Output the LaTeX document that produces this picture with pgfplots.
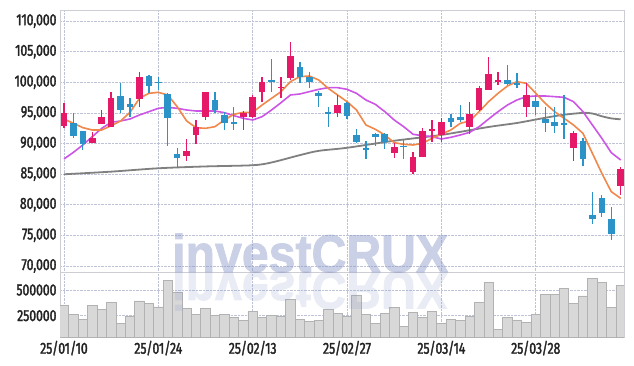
\documentclass[border=0pt]{standalone}
\usepackage{pgfplots}
\pgfplotsset{compat=1.18}
\usepackage{pgfplotstable}
\usepackage{fontspec}
\setmainfont{Fira Sans}[FakeStretch=0.76, FakeBold=2]
\newfontfamily\wmfont{Liberation Sans}[FakeBold=1.6]
\definecolor{upc}{RGB}{230,25,105}
\definecolor{dnc}{RGB}{43,147,200}
\definecolor{maA}{RGB}{240,135,75}
\definecolor{maB}{RGB}{204,85,230}
\definecolor{maC}{RGB}{128,128,128}
\definecolor{gridc}{RGB}{190,195,215}
\definecolor{framec}{RGB}{205,205,212}
\definecolor{labc}{RGB}{35,35,35}
\definecolor{volf}{RGB}{216,216,216}
\definecolor{vold}{RGB}{178,178,178}
\definecolor{wmc}{RGB}{140,152,200}

\pgfplotstableread{
i o h l c
0 92909 96563 92477 94924
3 90135 91933 90026 90952
4 93240 95419 93240 94330
5 92750 98469 92750 97380
8 97216 101628 96018 100811
13 88011 90735 87140 88774
14 91388 93839 89917 92750
15 94384 98400 93839 98360
19 94384 95310 92205 94924
20 94384 97925 94200 97543
21 98469 100920 96835 99994
23 99014 100920 97380 99286
24 100757 106531 100376 104297
29 94924 97925 94384 96291
35 88392 90026 87575 89372
37 85287 88556 84960 87739
38 87848 92587 87800 92096
39 92000 93839 90299 92314
40 91388 94112 90190 93458
43 92750 96835 91497 94815
44 95474 99450 95310 99014
45 98820 104188 98742 101410
46 100104 101738 99559 100376
49 95909 99831 94384 97925
54 89319 92097 87140 91770
59 83054 86214 81584 85832
}\upT

\pgfplotstableread{
i o h l c
1 93295 94924 90843 91279
2 92042 92100 88937 89863
6 97707 99940 94924 95474
7 96454 97380 94275 95964
9 101029 101193 98197 99450
10 100100 100920 98742 99900
11 98088 98197 89591 94112
12 88283 89318 85941 87684
16 97107 98360 94924 95474
17 94657 95201 92205 93295
18 93458 96018 92205 93186
22 100376 103807 98469 99994
25 102446 103371 99831 100920
26 100920 101628 99123 100103
27 98197 98578 96018 97816
28 95150 96018 92750 94924
30 96563 96835 94003 94548
31 91388 92314 90026 90190
32 89250 90408 87466 88991
33 91551 91660 89591 91007
34 91497 91660 89100 90299
36 89650 90735 87466 89372
41 94112 94765 92641 93458
42 94384 96291 93458 93839
47 100376 102827 99559 99722
48 99837 101569 99020 99559
50 97001 97925 94657 96018
51 94003 95909 91824 93404
52 93567 95909 91770 92914
53 93295 97925 90735 93023
55 90462 90844 86323 87412
56 78316 82129 76845 77608
57 81039 81584 78043 78588
58 77608 79568 74230 75211
}\dnT

\pgfplotstableread{
i a b
0 94000 87466
1 93295 88556
2 92587 89754
3 92205 91116
4 92205 92477
5 92909 93458
6 93676 93676
7 95092 94003
8 97380 94657
9 98197 95201
10 98360 95746
11 97925 95909
12 96018 95746
13 93676 95474
14 92587 95310
15 92477 95310
16 92750 95310
17 93839 95038
18 94765 94548
19 95092 94112
20 95092 93839
21 96291 94384
22 97380 95474
23 98469 96672
24 100103 97925
25 100920 98088
26 101029 98469
27 100376 98850
28 99014 99123
29 97925 99123
30 96835 98850
31 95474 98197
32 93022 97107
33 92314 96399
34 91388 95201
35 90135 93839
36 89863 92750
37 89754 91497
38 90026 91279
39 90843 91116
40 91552 90735
41 92205 91007
42 93295 91388
43 93676 91824
44 95201 92750
45 96835 94000
46 98197 95201
47 99395 96291
48 100104 97107
49 99831 97652
50 98197 97761
51 96563 97761
52 95201 97652
53 94112 97543
54 93023 96835
55 91661 95201
56 88393 93023
57 85124 90844
58 82129 88502
59 81039 87303
}\maT

\pgfplotstableread{
i g
0 84970
5 85400
10 85950
15 86250
20 86450
22 86900
25 88100
27 88800
30 89300
35 90450
40 91400
45 92700
48 93350
51 94200
53 94700
55 95000
56 94900
57 94450
58 94100
59 93950
}\mgT

\pgfplotstableread{
i v
0 350800
1 263200
2 217800
3 350800
4 315100
5 380000
6 175700
7 247000
8 393000
9 370300
10 334600
11 594000
12 477300
13 324800
14 263200
15 321600
16 253500
17 263200
18 237300
19 208100
20 292400
21 237300
22 253500
23 243800
24 409200
25 217800
26 198400
27 208100
28 315100
29 273000
30 240500
31 451300
32 263200
33 175700
34 273000
35 331300
36 149700
37 282700
38 237300
39 295700
40 175700
41 217800
42 208100
43 247000
44 380000
45 574600
46 120500
47 234000
48 208100
49 185400
50 263200
51 457800
52 457800
53 516200
54 370300
55 441600
56 613500
57 574600
58 331300
59 545400
}\volT

\pgfplotsset{
  panel/.style={
    anchor=south west, scale only axis, width=564pt,
    xmin=-0.42, xmax=59.35,
    xtick={0,10,...,50},
    grid=major,
    grid style={densely dotted, color=gridc, line width=0.6pt},
    axis line style={color=framec, line width=0.8pt},
    major tick length=0pt,
    tick label style={font=\fontsize{16}{16}\selectfont, color=labc},
    scaled y ticks=false,
  },
  wick/.style={draw=none, mark=none, error bars/.cd, y dir=both, y explicit, error mark=none,
    error bar style={draw=#1, line width=1.3pt}},
  body/.style={draw=none, mark=none, error bars/.cd, y dir=both, y explicit, error mark=none,
    error bar style={draw=#1, line width=6.6pt}},
}

\begin{document}
\begin{tikzpicture}
\path[use as bounding box] (0,0) rectangle (634pt,366pt);

\begin{axis}[panel, at={(60pt,93.7pt)}, height=262.3pt,
  ymin=68954, ymax=111814,
  ytick={70000,75000,...,110000},
  xticklabels={},
  yticklabel style={/pgf/number format/.cd, fixed, 1000 sep={,}, assume math mode=true},
]
\addplot[maC, line width=1.8pt, smooth, tension=0.5] table[x=i, y=g] {\mgT};
\addplot[maB, line width=1.6pt] table[x=i, y=b] {\maT};
\addplot[maA, line width=1.6pt] table[x=i, y=a] {\maT};

\addplot[wick=upc] table[x=i, y expr={(\thisrow{h}+\thisrow{l})/2}, y error expr={(\thisrow{h}-\thisrow{l})/2}] {\upT};
\addplot[body=upc] table[x=i, y expr={(\thisrow{o}+\thisrow{c})/2}, y error expr={abs(\thisrow{c}-\thisrow{o})/2}] {\upT};
\addplot[wick=dnc] table[x=i, y expr={(\thisrow{h}+\thisrow{l})/2}, y error expr={(\thisrow{h}-\thisrow{l})/2}] {\dnT};
\addplot[body=dnc] table[x=i, y expr={(\thisrow{o}+\thisrow{c})/2}, y error expr={abs(\thisrow{c}-\thisrow{o})/2}] {\dnT};
\end{axis}

\begin{axis}[panel, at={(60pt,28.7pt)}, height=65pt,
  ymin=40000, ymax=672000,
  ytick={250000,500000},
  yticklabel style={/pgf/number format/.cd, fixed, 1000 sep={}, assume math mode=true},
  xticklabels={25/01/10,25/01/24,25/02/13,25/02/27,25/03/14,25/03/28},
]
\addplot[ybar, bar width=1, fill=volf, draw=vold, line width=0.7pt] table[x=i, y=v] {\volT};
\end{axis}

\begin{scope}[transparency group, opacity=0.46]
\node[anchor=base west, inner sep=0pt, text=wmc, xscale=0.91,
  font=\wmfont\bfseries\fontsize{53}{53}\selectfont] at (172pt,94pt) {investCRUX};
\end{scope}
\begin{scope}[transparency group, opacity=0.18]
\node[anchor=base west, inner sep=0pt, text=wmc, xscale=0.91, yscale=-1,
  font=\wmfont\bfseries\fontsize{53}{53}\selectfont] at (172pt,94pt) {investCRUX};
\end{scope}
\end{tikzpicture}
\end{document}
